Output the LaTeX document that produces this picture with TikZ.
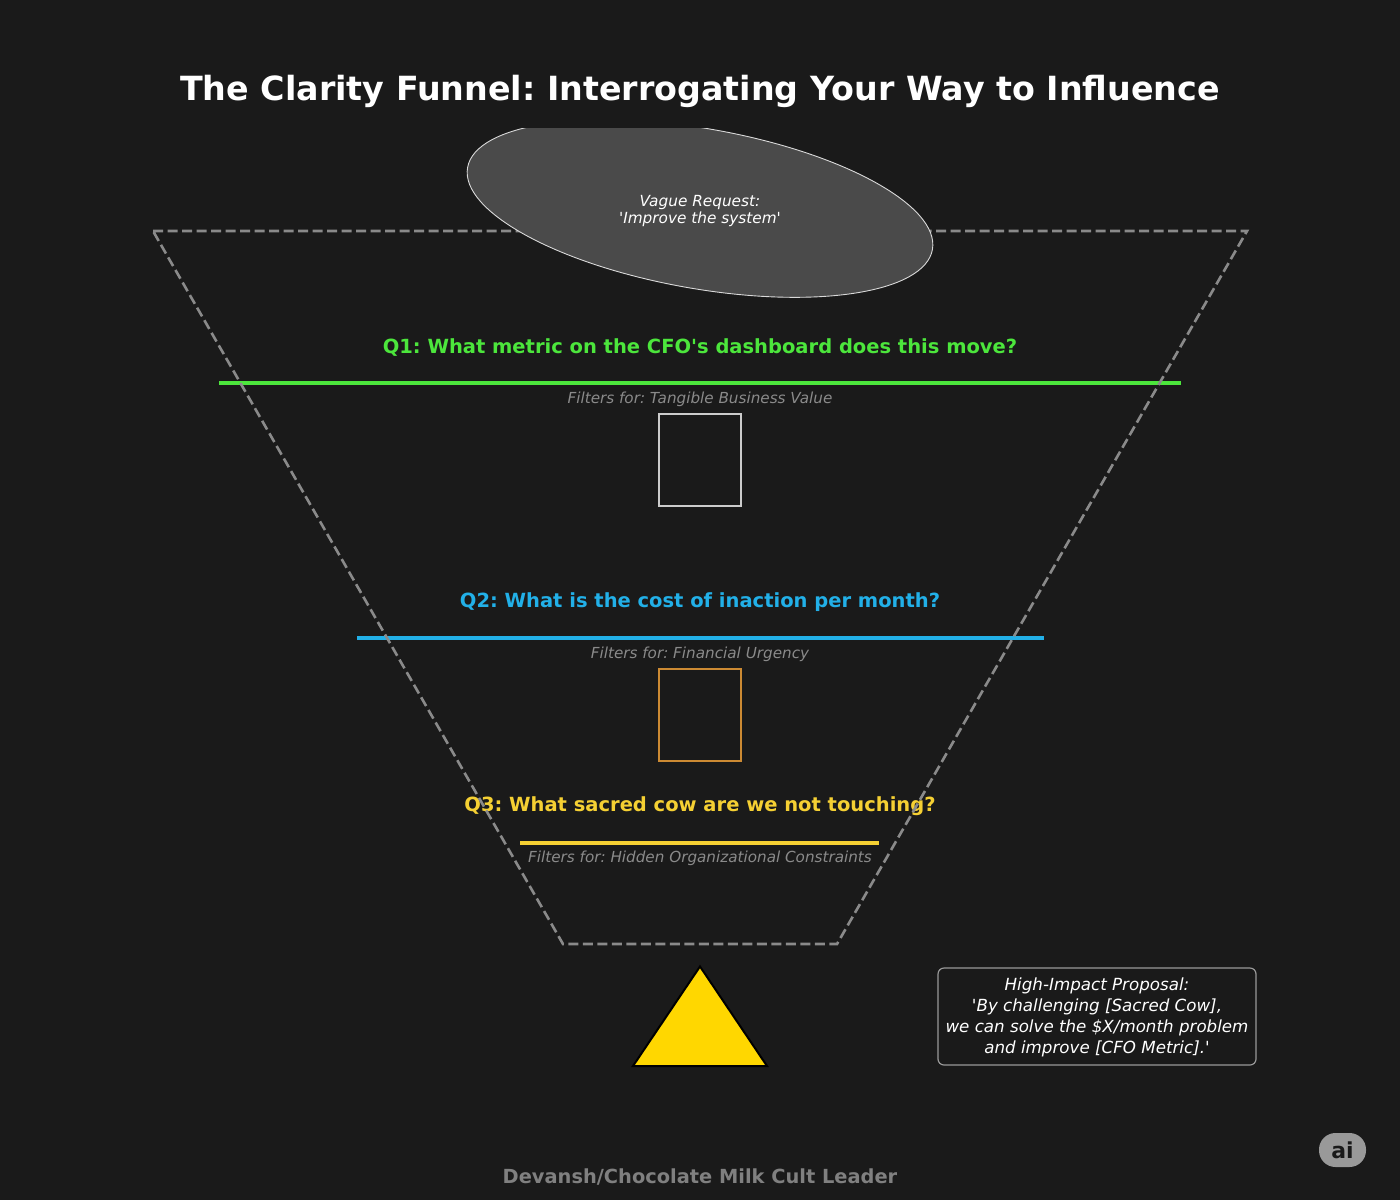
\documentclass[tikz,border=0pt]{standalone}
\usepackage{fontspec}
\setmainfont{DejaVu Sans}[Ligatures=TeXOff]
\usetikzlibrary{shapes.geometric}
\definecolor{bg}{HTML}{1A1A1A}
\definecolor{qgreen}{HTML}{4CE63C}
\definecolor{qblue}{HTML}{22B0E8}
\definecolor{qyellow}{HTML}{F5D033}
\definecolor{qorange}{HTML}{CC8A33}
\definecolor{funnelgray}{HTML}{8A8A8A}
\definecolor{footgray}{HTML}{808080}
\definecolor{filtergray}{HTML}{8A8A8A}
\definecolor{ellfill}{HTML}{4A4A4A}
\definecolor{gold}{HTML}{FFD700}
\definecolor{badge}{HTML}{999999}
\tikzset{
  qtext/.style={font=\fontsize{19.5}{24}\selectfont\bfseries, inner sep=0pt},
  ftext/.style={font=\fontsize{15.2}{18}\selectfont\itshape, text=filtergray, inner sep=0pt},
  qline/.style={line width=4pt},
  funnel/.style={draw=funnelgray, line width=2.6pt, dash pattern=on 10pt off 4.5pt},
  sqbox/.style={line width=2pt, minimum width=82pt, minimum height=92pt, inner sep=0pt}
}
\begin{document}
\frenchspacing
\begin{tikzpicture}[x=1pt,y=-1pt]
\fill[bg] (0,0) rectangle (1400,1200);
\useasboundingbox (0,0) rectangle (1400,1200);

% title
\node[font=\fontsize{33.3}{40}\selectfont\bfseries, text=white, inner sep=0pt] (title) at (700,91) {The Clarity Funnel: Interrogating Your Way to Influence};

% Q1
\node[qtext, text=qgreen] (q1) at (700,348) {Q1: What metric on the CFO's dashboard does this move?};
\coordinate (q1l) at (219,383);
\coordinate (q1r) at (1181,383);
\draw[qline, draw=qgreen] (q1l) -- (q1r);
\node[ftext] (f1) at (700,399) {Filters for: Tangible Business Value};
\node[sqbox, draw=white!80!black] (sq1) at (700,460) {};

% Q2
\node[qtext, text=qblue] (q2) at (700,602) {Q2: What is the cost of inaction per month?};
\coordinate (q2l) at (357,638);
\coordinate (q2r) at (1044,638);
\draw[qline, draw=qblue] (q2l) -- (q2r);
\node[ftext] (f2) at (700,654) {Filters for: Financial Urgency};
\node[sqbox, draw=qorange] (sq2) at (700,715) {};

% Q3
\node[qtext, text=qyellow] (q3) at (700,806) {Q3: What sacred cow are we not touching?};
\coordinate (q3l) at (520,843);
\coordinate (q3r) at (879,843);
\draw[qline, draw=qyellow] (q3l) -- (q3r);
\node[ftext] (f3) at (700,858) {Filters for: Hidden Organizational Constraints};

% funnel
\coordinate (ftl) at (153,231);
\coordinate (ftr) at (1247,231);
\coordinate (fbr) at (837,944);
\coordinate (fbl) at (563,944);
\draw[funnel] (ftl) -- (ftr) -- (fbr) -- (fbl) -- cycle;

% vague request ellipse
\begin{scope}
\clip (0,128) rectangle (1400,1200);
\draw[fill=ellfill, draw=white!85!black, line width=0.9pt, rotate around={-10:(700,208.5)}] (700,208.5) ellipse [x radius=236, y radius=80];
\end{scope}
\node[font=\fontsize{15.3}{17}\selectfont\itshape, text=white, align=center, inner sep=0pt] (vague) at (700,211.5) {Vague Request:\\'Improve the system'};

% triangle
\coordinate (ta) at (700,966.5);
\coordinate (tb) at (767,1066);
\coordinate (tc) at (633,1066);
\draw[fill=gold, draw=black, line width=2pt, line join=miter] (ta) -- (tb) -- (tc) -- cycle;

% proposal box
\node[draw=white!60!black, line width=1.2pt, rounded corners=6pt, fill=bg, minimum width=318pt, minimum height=97pt, inner sep=0pt] (propbox) at (1097,1016.5) {};
\node[font=\fontsize{16.7}{21}\selectfont\itshape, text=white, align=center, inner sep=0pt] (prop) at (1097,1017.5) {High-Impact Proposal:\\'By challenging [Sacred Cow],\\we can solve the \$X/month problem\\and improve [CFO Metric].'};

% footer
\node[font=\fontsize{19.4}{23}\selectfont\bfseries, text=footgray, inner sep=0pt] (footer) at (700,1177) {Devansh/Chocolate Milk Cult Leader};

% ai badge
\node[fill=badge, rounded corners=16.5pt, minimum width=47pt, minimum height=34pt, inner sep=0pt, font=\fontsize{22}{24}\selectfont\bfseries, text=bg] (ai) at (1342.5,1150) {ai};
\end{tikzpicture}
\end{document}
